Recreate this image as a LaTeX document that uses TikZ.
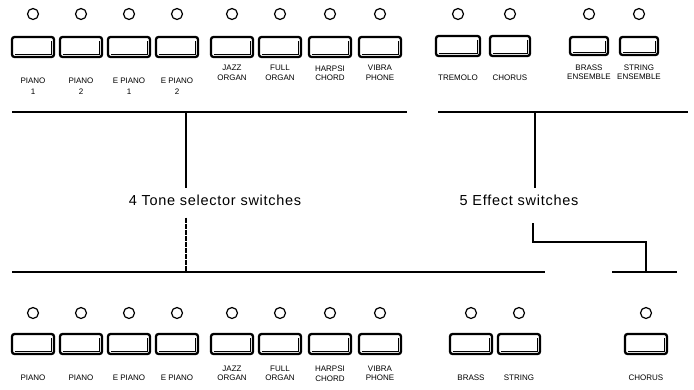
\documentclass[tikz,border=0pt]{standalone}
\usepackage{fontspec}
\setmainfont{Liberation Sans}
\newfontfamily\captionfont[LetterSpace=5]{Liberation Sans}
\usetikzlibrary{positioning}

\tikzset{
  led/.style={draw, circle, line width=1.2pt, minimum size=11pt, inner sep=0pt},
  key/.style={draw, rounded corners=2.5pt, line width=2.3pt, minimum width=42pt, minimum height=20pt, inner sep=0pt},
  keyline/.style={line width=0.6pt},
  keylabel/.style={font=\fontsize{8}{9.5}\selectfont, align=center, inner sep=0pt},
  caption/.style={font=\captionfont\fontsize{14.5}{16}\selectfont, inner sep=0pt},
  rule/.style={line width=1.3pt},
}

\begin{document}
\begin{tikzpicture}[x=1pt,y=-1pt]

        \useasboundingbox (0,0) rectangle (694,389);

        % Upper panel, tone selector switches
        \foreach \x/\ly/\txt [count=\i] in {33/86/{PIANO\\[1.5pt]1}, 81/86/{PIANO\\[1.5pt]2}, 129/86/{E PIANO\\[1.5pt]1}, 177/86/{E PIANO\\[1.5pt]2}, 232/73/{JAZZ\\ORGAN}, 280/73/{FULL\\ORGAN}, 330/73/{HARPSI\\CHORD}, 380/73/{VIBRA\\PHONE}}{
            \node[led] (tl\i) at (\x,14) {};
            \node[key] (tk\i) at (\x,47) {};
            \draw[keyline] ([xshift=4pt,yshift=4pt]tk\i.south west) -- ([xshift=-4pt,yshift=4pt]tk\i.south east) -- ([xshift=-4pt,yshift=-5pt]tk\i.north east);
            \node[keylabel] (tt\i) at (\x,\ly) {\txt};
        }

        % Upper panel, effect switches
        \foreach \x/\w/\h/\ly/\txt [count=\i] in {458/44/20/78/{TREMOLO}, 510/40/20/78/{CHORUS}, 589/38/18/72/{BRASS\\ENSEMBLE}, 639/38/18/72/{STRING\\ENSEMBLE}}{
            \node[led] (el\i) at (\x,14) {};
            \node[key, minimum width=\w pt, minimum height=\h pt] (ek\i) at (\x,46) {};
            \draw[keyline] ([xshift=4pt,yshift=4pt]ek\i.south west) -- ([xshift=-4pt,yshift=4pt]ek\i.south east) -- ([xshift=-4pt,yshift=-5pt]ek\i.north east);
            \node[keylabel] (et\i) at (\x,\ly) {\txt};
        }

        % Captions
        \node[caption] (tone) at (215,200) {4 Tone selector switches};
        \node[caption] (effect) at (519,200) {5 Effect switches};

        % Brackets
        \coordinate (ta) at (12,112);
        \coordinate (tb) at (407,112);
        \coordinate (tc) at (438,112);
        \coordinate (td) at (688,112);
        \coordinate (ba) at (12,272);
        \coordinate (bb) at (545,272);
        \coordinate (bc) at (612,272);
        \coordinate (bd) at (677,272);
        \coordinate (tv) at (186,112);
        \coordinate (ev) at (535,112);
        \coordinate (ew) at (533,223);
        \coordinate (ex) at (646,242);

        \draw[rule] (ta) -- (tb);
        \draw[rule] (tc) -- (td);
        \draw[rule] (ba) -- (bb);
        \draw[rule] (bc) -- (bd);

        \draw[rule] (tv) -- ([yshift=6pt]tv |- tone.north);
        \draw[rule, dash pattern=on 5pt off 1pt] ([yshift=-12pt]tv |- tone.south) -- (tv |- ba);

        \draw[rule] (ev) -- ([yshift=6pt]ev |- effect.north);
        \draw[rule] (ew) -- (ew |- ex) -- (ex) -- (ex |- bc);

        % Lower panel, tone selector switches
        \foreach \x/\ly/\txt [count=\i] in {33/378/{PIANO}, 81/378/{PIANO}, 129/378/{E PIANO}, 177/378/{E PIANO}, 232/373.5/{JAZZ\\ORGAN}, 280/373.5/{FULL\\ORGAN}, 330/373.5/{HARPSI\\CHORD}, 380/373.5/{VIBRA\\PHONE}}{
            \node[led] (bl\i) at (\x,313) {};
            \node[key] (bk\i) at (\x,344) {};
            \draw[keyline] ([xshift=4pt,yshift=4pt]bk\i.south west) -- ([xshift=-4pt,yshift=4pt]bk\i.south east) -- ([xshift=-4pt,yshift=-5pt]bk\i.north east);
            \node[keylabel] (bt\i) at (\x,\ly) {\txt};
        }

        % Lower panel, effect switches
        \foreach \x/\txt [count=\i] in {471/{BRASS}, 519/{STRING}, 646/{CHORUS}}{
            \node[led] (fl\i) at (\x,313) {};
            \node[key] (fk\i) at (\x,344) {};
            \draw[keyline] ([xshift=4pt,yshift=4pt]fk\i.south west) -- ([xshift=-4pt,yshift=4pt]fk\i.south east) -- ([xshift=-4pt,yshift=-5pt]fk\i.north east);
            \node[keylabel] (ft\i) at (\x,378) {\txt};
        }

\end{tikzpicture}
\end{document}
